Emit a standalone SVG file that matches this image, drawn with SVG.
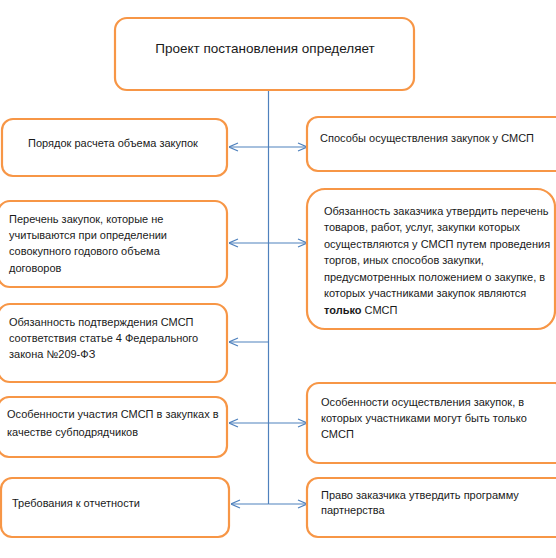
<svg xmlns="http://www.w3.org/2000/svg" width="556" height="558" viewBox="0 0 556 558">
<defs>
<marker id="arr" viewBox="0 0 10 10" refX="10" refY="5" markerWidth="10" markerHeight="10" markerUnits="userSpaceOnUse" orient="auto">
<path d="M1,1 L10,5 L1,9" fill="none" stroke="#4F81BD" stroke-width="1.2"/>
</marker>
<style>
.box{fill:#fff;stroke:#F79646;stroke-width:2.2}
.t{font-family:"Liberation Sans",Arial,sans-serif;font-size:11px;fill:#1a1a1a}
.ln{stroke:#4F81BD;stroke-width:1.2;fill:none}
</style>
</defs>
<rect width="556" height="558" fill="#fff"/>
<g id="connectors">
<line class="ln" x1="268.5" y1="90" x2="268.5" y2="504"/>
<line class="ln" x1="268.5" y1="147" x2="229" y2="147" marker-end="url(#arr)"/>
<line class="ln" x1="268.5" y1="147" x2="307" y2="147" marker-end="url(#arr)"/>
<line class="ln" x1="268.5" y1="243" x2="229" y2="243" marker-end="url(#arr)"/>
<line class="ln" x1="268.5" y1="243" x2="307" y2="243" marker-end="url(#arr)"/>
<line class="ln" x1="268.5" y1="342" x2="229" y2="342" marker-end="url(#arr)"/>
<line class="ln" x1="268.5" y1="423" x2="229" y2="423" marker-end="url(#arr)"/>
<line class="ln" x1="268.5" y1="423" x2="307" y2="423" marker-end="url(#arr)"/>
<line class="ln" x1="268.5" y1="504" x2="231" y2="504" marker-end="url(#arr)"/>
<line class="ln" x1="268.5" y1="504" x2="307" y2="504" marker-end="url(#arr)"/>
</g>
<g id="top">
<rect class="box" x="115" y="18" width="299" height="72" rx="12"/>
<text class="t" x="265" y="53" text-anchor="middle" style="font-size:13.5px">Проект постановления определяет</text>
</g>
<g id="l1">
<rect class="box" x="2" y="119" width="225" height="57" rx="11"/>
<text class="t" x="113" y="147" text-anchor="middle">Порядок расчета объема закупок</text>
</g>
<g id="l2">
<rect class="box" x="-2" y="201" width="229" height="86" rx="12"/>
<text class="t" x="9" y="223">Перечень закупок, которые не</text>
<text class="t" x="9" y="239">учитываются при определении</text>
<text class="t" x="9" y="255">совокупного годового объема</text>
<text class="t" x="9" y="272">договоров</text>
</g>
<g id="l3">
<rect class="box" x="-2" y="304" width="229" height="78" rx="12"/>
<text class="t" x="9" y="326">Обязанность подтверждения СМСП</text>
<text class="t" x="9" y="342">соответствия статье 4 Федерального</text>
<text class="t" x="9" y="358">закона №209-ФЗ</text>
</g>
<g id="l4">
<rect class="box" x="-2" y="397" width="229" height="60" rx="11"/>
<text class="t" x="7" y="418">Особенности участия СМСП в закупках в</text>
<text class="t" x="7" y="436">качестве субподрядчиков</text>
</g>
<g id="l5">
<rect class="box" x="1" y="478" width="228" height="59" rx="11"/>
<text class="t" x="12" y="507">Требования к отчетности</text>
</g>
<g id="r1">
<rect class="box" x="307" y="117" width="260" height="54" rx="11"/>
<text class="t" x="320" y="142">Способы осуществления закупок у СМСП</text>
</g>
<g id="r2">
<rect class="box" x="307" y="189" width="248" height="140" rx="18"/>
<text class="t" x="324" y="215">Обязанность заказчика утвердить перечень</text>
<text class="t" x="324" y="231">товаров, работ, услуг, закупки которых</text>
<text class="t" x="324" y="248">осуществляются у СМСП путем проведения</text>
<text class="t" x="324" y="264">торгов, иных способов закупки,</text>
<text class="t" x="324" y="281">предусмотренных положением о закупке, в</text>
<text class="t" x="324" y="297">которых участниками закупок являются</text>
<text class="t" x="324" y="314"><tspan font-weight="bold">только</tspan> СМСП</text>
</g>
<g id="r3">
<rect class="box" x="307" y="383" width="260" height="80" rx="12"/>
<text class="t" x="321" y="406">Особенности осуществления закупок, в</text>
<text class="t" x="321" y="422">которых участниками могут быть только</text>
<text class="t" x="321" y="438">СМСП</text>
</g>
<g id="r4">
<rect class="box" x="307" y="478" width="260" height="59" rx="11"/>
<text class="t" x="321" y="499">Право заказчика утвердить программу</text>
<text class="t" x="321" y="514">партнерства</text>
</g>
</svg>
